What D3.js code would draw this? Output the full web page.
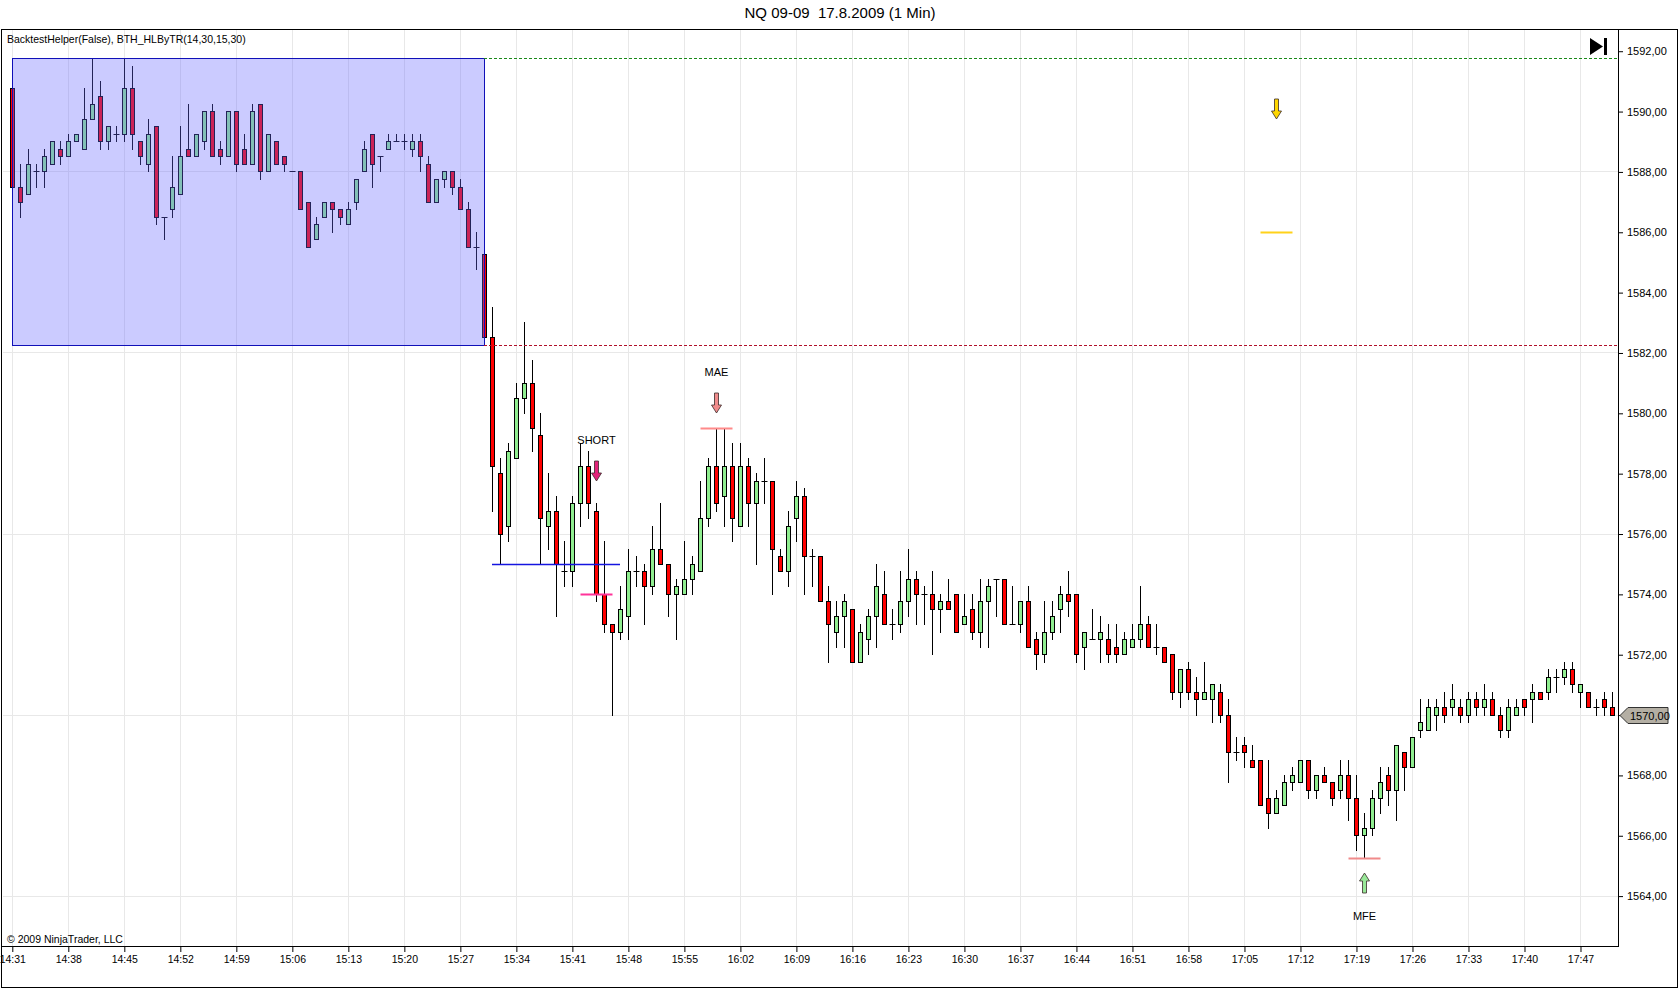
<!DOCTYPE html>
<html>
<head>
<meta charset="utf-8">
<script src="https://cdn.jsdelivr.net/npm/d3@7"></script>
<style>
html,body{margin:0;padding:0;background:#fff;}
svg{display:block;font-family:"Liberation Sans",Arial,sans-serif;}
</style>
</head>
<body>
<svg id="chart" width="1680" height="990"></svg>
<script>
// ---------------- DATA ----------------
const startLabel = "14:31";
const open = [
1590.75,1587.5,1587.25,1588,1588,1588.25,1588.75,1588.5,1589,1588.75,
1589.75,1590.5,1589,1589.25,1589.25,1590.75,1589,1588.25,1589.5,1586.5,
1586.75,1587.25,1588.75,1588.5,1589,1590,1588.75,1588.5,1590,1588.75,
1588.25,1590.25,1588,1589,1588.5,1588,1588,1587,1585.75,1586.5,
1587,1586.75,1586.25,1587,1588,1589.25,1588.5,1588.75,1589,1589,
1588.75,1589,1588.25,1587,1587.75,1588,1587.5,1586.75,1585.5,1585.25,
1582.5,1578,1576.25,1578.5,1580.5,1581,1579.25,1576.25,1576.75,1574.75,
1574.75,1577,1578.25,1576.75,1574,1573,1572.75,1573.25,1574.75,1574.75,
1574.25,1575.5,1575,1574,1574,1574.5,1574.75,1576.5,1578.25,1577.25,
1578.25,1576.25,1578.25,1577,1577.75,1577.75,1575.25,1574.75,1576.5,1577.25,
1575.25,1575.25,1573.75,1572.75,1573.25,1573.5,1571.75,1572.5,1573.25,1574,
1573,1573,1573.75,1574.5,1574,1574,1573.5,1573.75,1574,1573,
1573.5,1572.75,1573.75,1574.5,1574.5,1573,1573,1573.75,1572.5,1572,
1572.75,1573.5,1574,1574,1572.25,1572.5,1572.5,1572.5,1572.25,1572,
1572.25,1572.5,1573,1572.25,1572.25,1572,1570.75,1571.5,1570.75,1570.5,
1570.5,1570.75,1570,1568.75,1569,1568.5,1568.5,1567.25,1566.75,1567,
1567.75,1567.75,1568.5,1567.5,1568,1567.75,1567.5,1568,1567.25,1566,
1566.25,1567.25,1568,1567.5,1568.75,1568.25,1569.5,1569.5,1570,1570.25,
1570.25,1570.25,1570,1570.5,1570.25,1570.5,1570,1569.5,1570,1570.5,
1570.5,1570.75,1570.75,1571.25,1571.25,1571.5,1570.75,1570.75,1570.25,1570.5,
1570.25];
const high = [
1590.75,1588.25,1588.75,1588.25,1588.75,1589,1589,1589.25,1589.25,1590.75,
1591.75,1591,1589.5,1589.5,1591.75,1591.5,1589,1589.75,1589.5,1586.5,
1588.5,1589.5,1590.25,1589.25,1590,1590.25,1589,1590,1590,1589.25,
1590.25,1590.25,1589.25,1589,1588.5,1588,1588,1587,1586.5,1587,
1587,1586.75,1587,1587.75,1589,1589.25,1588.5,1589.25,1589.25,1589.25,
1589.25,1589.25,1588.5,1587.75,1588,1588,1587.75,1587,1586,1585.25,
1583.5,1578.5,1579,1581,1583,1581.75,1580,1578,1577.25,1575.75,
1577.25,1579,1578.75,1577,1575.75,1573,1574.25,1575.5,1575.25,1575,
1576.25,1577,1575,1574.5,1575.75,1575.25,1577.75,1578.5,1579.5,1579.5,
1579,1579,1578.5,1578,1578.5,1577.75,1575.5,1576.75,1577.75,1577.5,
1575.5,1575.25,1574.25,1573.75,1574,1573.5,1573,1573.5,1575,1574.75,
1573.5,1574.75,1575.5,1574.75,1574.25,1574.75,1574,1574.5,1574,1574,
1574,1574.5,1574.5,1574.5,1574.5,1574.25,1573.75,1574.25,1572.75,1573.75,
1573.75,1574.25,1574.75,1574,1572.75,1573.5,1573.25,1573,1573,1572.75,
1573,1574.25,1573.25,1573,1572.25,1572,1571.5,1571.75,1571.25,1571.75,
1571,1571,1570.5,1569.25,1569.25,1569,1568.5,1568.5,1567.5,1568,
1568.25,1568.5,1568.5,1568,1568.25,1567.75,1568.5,1568.5,1568,1566.75,
1567.5,1568.25,1568.25,1569,1568.75,1569.25,1570.5,1570.5,1570.5,1570.75,
1571,1570.5,1570.75,1570.75,1571,1570.75,1570.25,1570.5,1570.5,1570.5,
1571,1570.75,1571.5,1571.5,1571.75,1571.75,1571,1570.75,1570.5,1570.75,
1570.75];
const low = [
1587.5,1586.5,1587.25,1587.5,1587.5,1588.25,1588.25,1588.5,1589,1588.75,
1589.75,1588.75,1588.75,1589,1589,1588.75,1588.25,1588,1586.25,1585.75,
1586.5,1587.25,1588.5,1588.5,1588.75,1588.5,1588.25,1588.5,1588,1588.25,
1588.25,1587.75,1588,1588.25,1588,1588,1586.75,1585.5,1585.75,1586.5,
1586,1586.25,1586.25,1586.75,1588,1587.5,1588,1588.75,1589,1588.75,
1588.5,1588,1587,1587,1587.5,1587.25,1586.75,1585.5,1584.75,1582.25,
1576.75,1575,1575.75,1578.5,1580,1578.75,1575,1575.5,1573.25,1574.25,
1574.25,1576.25,1576.5,1573.75,1572.75,1570,1572.5,1572.5,1574.25,1573,
1574,1575,1573.25,1572.5,1574,1574,1574.75,1576.25,1576.75,1576.25,
1575.75,1576.25,1576.25,1575,1577,1574,1574.75,1574.25,1575.75,1574,
1574.25,1573.75,1571.75,1572.25,1572.25,1571.75,1571.75,1572,1572.25,1573,
1572.5,1572.75,1573.25,1573,1573,1572,1572.75,1573.5,1572.75,1573,
1572.5,1572.25,1572.25,1573.25,1573,1573,1572.75,1572.25,1571.5,1571.75,
1572.5,1572.75,1573.25,1571.75,1571.5,1572.5,1571.75,1571.75,1571.75,1572,
1572.25,1572.25,1572.25,1572,1571.75,1570.5,1570.25,1570.5,1570,1570.5,
1569.75,1569.75,1567.75,1568.5,1568.25,1568.25,1567,1566.25,1566.75,1567,
1567.5,1567.75,1567.25,1567.25,1567.75,1567,1567.25,1566.5,1565.5,1565.25,
1566,1566.75,1567,1566.5,1567.5,1568.25,1569.25,1569.5,1569.5,1569.75,
1570,1569.75,1569.75,1570,1570,1570,1569.25,1569.25,1570,1570,
1569.75,1570.5,1570.5,1570.75,1571,1570.75,1570.25,1570.25,1570,1570,
1570];
const close = [
1587.5,1587,1588.25,1588,1588.5,1589,1588.5,1589,1589.25,1589.75,
1590.25,1589,1589.5,1589.25,1590.75,1589.25,1588.5,1589.25,1586.5,1586.5,
1587.5,1588.5,1588.5,1589.25,1590,1588.5,1588.5,1590,1588.25,1588.25,
1590,1588,1589.25,1588.25,1588.25,1588,1586.75,1585.5,1586.25,1587,
1586.75,1586.5,1586.75,1587.75,1588.75,1588.25,1588.5,1589,1589,1589,
1589,1588.5,1587,1587.75,1588,1587.5,1586.75,1585.5,1585.5,1582.5,
1578.25,1576,1578.75,1580.5,1581,1579.5,1576.5,1576.75,1575,1574.75,
1577,1578.25,1577,1574,1573,1572.75,1573.5,1574.75,1574.75,1574.25,
1575.5,1575,1574,1574.25,1574.5,1575,1576.5,1578.25,1577,1578.25,
1576.5,1578.25,1577,1577.75,1577.75,1575.5,1574.75,1576.25,1577.25,1575.25,
1575.25,1573.75,1573,1573.25,1573.75,1571.75,1572.75,1573.25,1574.25,1573,
1573,1573.75,1574.5,1574,1574,1573.5,1573.75,1573.5,1572.75,1573.25,
1572.75,1573.75,1574.25,1574.5,1573,1573,1573.75,1572.25,1572,1572.75,
1573.25,1574,1573.75,1572,1572.75,1572.5,1572.75,1572,1572,1572.5,
1572.5,1573,1572.25,1572.25,1571.75,1570.75,1571.5,1570.75,1570.5,1570.75,
1571,1570,1568.75,1568.75,1568.75,1568.25,1567,1566.75,1567.25,1567.75,
1568,1568.5,1567.5,1568,1567.75,1567.25,1568,1567.25,1566,1566.25,
1567.25,1567.75,1567.5,1569,1568.25,1569.25,1569.75,1570.25,1570.25,1570,
1570.5,1570,1570.5,1570.25,1570.5,1570,1569.5,1570.25,1570.25,1570.25,
1570.75,1570.5,1571.25,1571.25,1571.5,1571,1571,1570.25,1570.25,1570.25,
1570];
const timeTickLabels = ["14:31","14:38","14:45","14:52","14:59","15:06","15:13","15:20","15:27","15:34","15:41","15:48","15:55","16:02","16:09","16:16","16:23","16:30","16:37","16:44","16:51","16:58","17:05","17:12","17:19","17:26","17:33","17:40","17:47"];
const priceTicks = [1564,1566,1568,1570,1572,1574,1576,1578,1580,1582,1584,1586,1588,1590,1592];
const gridPrices = [1564,1570,1576,1582,1588];
// range box (BTH_HLByTR 14:30-15:30)
const rangeStart = "14:31", rangeEnd = "15:30";
const rangeHigh = 1591.75, rangeLow = 1582.25;
// trade marks
const breakLine = {from:"15:31", to:"15:47", price:1575};
const hLines = [
  {time:"15:44", price:1574,    color:"#ff3399"},
  {time:"15:59", price:1579.5,  color:"#ff8a8a"},
  {time:"17:20", price:1565.25, color:"#f08a8a"},
  {time:"17:09", price:1586,    color:"#ffd21a"}
];
const arrows = [
  {time:"15:44", tip:1577.75, dir:"down", fill:"#e2247a", label:"SHORT"},
  {time:"15:59", tip:1580,    dir:"down", fill:"#f08c8c", label:"MAE"},
  {time:"17:20", tip:1564.75, dir:"up",   fill:"#98e898", label:"MFE"},
  {time:"17:09", tip:1589.75, dir:"down", fill:"#ffd700", label:""}
];
const lastPrice = 1570;
const title = "NQ 09-09  17.8.2009 (1 Min)";
const indicatorLabel = "BacktestHelper(False), BTH_HLByTR(14,30,15,30)";
const copyright = "\u00A9 2009 NinjaTrader, LLC";

// ---------------- SETUP ----------------
const svg = d3.select("#chart");
const parse = d3.timeParse("%H:%M");
const t0 = parse(startLabel);
const times = open.map((_, i) => d3.timeMinute.offset(t0, i));
const candles = times.map((t, i) => ({t, o:open[i], h:high[i], l:low[i], c:close[i]}));

const L = 3, R = 1618, T = 29, B = 946;
const x = d3.scaleTime()
  .domain([new Date(t0.getTime() - 66000), new Date(t0.getTime() + 200.75 * 60000)])
  .range([L, R]);
const y = d3.scaleLinear().domain([1562.33, 1592.72]).range([B, T]);

const px = t => Math.round(x(typeof t === "string" ? parse(t) : t));

// background
svg.append("rect").attr("width",1680).attr("height",990).attr("fill","#fff");

// title
svg.append("text").attr("x",840).attr("y",18).attr("text-anchor","middle")
  .attr("font-size",15).attr("fill","#000").style("white-space","pre").text(title);

// clip
svg.append("clipPath").attr("id","plotclip").append("rect")
  .attr("x",L).attr("y",T).attr("width",R-L).attr("height",B-T);
const plot = svg.append("g").attr("clip-path","url(#plotclip)");

// grid
plot.append("g").selectAll("line").data(timeTickLabels).join("line")
  .attr("x1",d=>px(d)+0.5).attr("x2",d=>px(d)+0.5).attr("y1",T).attr("y2",B)
  .attr("stroke","#e8e8e8");
plot.append("g").selectAll("line").data(gridPrices).join("line")
  .attr("x1",L).attr("x2",R).attr("y1",d=>Math.round(y(d))+0.5).attr("y2",d=>Math.round(y(d))+0.5)
  .attr("stroke","#e8e8e8");

// candles
const cg = plot.append("g");
candles.forEach(d => {
  const cx = px(d.t);
  cg.append("line").attr("x1",cx+0.5).attr("x2",cx+0.5)
    .attr("y1",Math.round(y(d.h))).attr("y2",Math.round(y(d.l))+1)
    .attr("stroke","#000").attr("stroke-width",1);
  if (d.o === d.c) {
    const yy = Math.round(y(d.o)) + 0.5;
    cg.append("line").attr("x1",cx-2.5).attr("x2",cx+3.5).attr("y1",yy).attr("y2",yy)
      .attr("stroke","#000");
  } else {
    const top = Math.round(y(Math.max(d.o,d.c))), bot = Math.round(y(Math.min(d.o,d.c)));
    cg.append("rect").attr("x",cx-1.5).attr("y",top+0.5).attr("width",4).attr("height",Math.max(1,bot-top))
      .attr("fill", d.c > d.o ? "#90ee90" : "#ff0000").attr("stroke","#000").attr("stroke-width",1);
  }
});

// range box overlay
const bx0 = px(rangeStart), bx1 = px(rangeEnd);
plot.append("rect").attr("x",bx0+0.5).attr("y",Math.round(y(rangeHigh))+0.5)
  .attr("width",bx1-bx0).attr("height",Math.round(y(rangeLow))-Math.round(y(rangeHigh)))
  .attr("fill","#6666ff").attr("fill-opacity",0.34).attr("stroke","#1010b8").attr("stroke-width",1);
// dashed continuation lines
plot.append("line").attr("x1",bx1).attr("x2",R).attr("y1",Math.round(y(rangeHigh))+0.5).attr("y2",Math.round(y(rangeHigh))+0.5)
  .attr("stroke","#1a8a1a").attr("stroke-dasharray","3,2");
plot.append("line").attr("x1",bx1).attr("x2",R).attr("y1",Math.round(y(rangeLow))+0.5).attr("y2",Math.round(y(rangeLow))+0.5)
  .attr("stroke","#b0102a").attr("stroke-dasharray","3,2");

// breakout line
plot.append("line").attr("x1",px(breakLine.from)).attr("x2",px(breakLine.to))
  .attr("y1",Math.round(y(breakLine.price))+0.5).attr("y2",Math.round(y(breakLine.price))+0.5)
  .attr("stroke","#1515e0").attr("stroke-width",1.3);

// trade horizontal marks
plot.selectAll(".hmark").data(hLines).join("line")
  .attr("x1",d=>px(d.time)-15.5).attr("x2",d=>px(d.time)+16.5)
  .attr("y1",d=>Math.round(y(d.price))+0.5).attr("y2",d=>Math.round(y(d.price))+0.5)
  .attr("stroke",d=>d.color).attr("stroke-width",2);

// arrows
arrows.forEach(a => {
  const cx = px(a.time) + 0.5, ty = Math.round(y(a.tip));
  const s = a.dir === "down" ? -1 : 1;
  const p = d3.path();
  p.moveTo(cx-2, ty+s*20); p.lineTo(cx+2, ty+s*20); p.lineTo(cx+2, ty+s*8);
  p.lineTo(cx+5, ty+s*8); p.lineTo(cx, ty); p.lineTo(cx-5, ty+s*8); p.lineTo(cx-2, ty+s*8); p.closePath();
  plot.append("path").attr("d",p.toString()).attr("fill",a.fill).attr("stroke","#3a2a2a").attr("stroke-width",0.8);
  if (a.label) {
    plot.append("text").attr("x",cx).attr("y", ty + s*40 + (s < 0 ? 3 : 7)).attr("text-anchor","middle")
      .attr("font-size",11).attr("fill","#000").text(a.label);
  }
});

// indicator label & copyright
svg.append("text").attr("x",7).attr("y",43).attr("font-size",10.5).attr("fill","#000").text(indicatorLabel);
svg.append("text").attr("x",7).attr("y",943).attr("font-size",10.5).attr("fill","#000").text(copyright);

// go-to-end icon
svg.append("path").attr("d","M1590,38 L1603,46.5 L1590,55 Z").attr("fill","#000");
svg.append("rect").attr("x",1604).attr("y",38).attr("width",3).attr("height",17).attr("fill","#000");

// axes
const xAxis = d3.axisBottom(x).tickValues(timeTickLabels.map(parse)).tickFormat(d3.timeFormat("%H:%M")).tickSize(6).tickPadding(4);
const gx = svg.append("g").attr("transform",`translate(0.5,${B})`).call(xAxis);
gx.select(".domain").remove();
gx.selectAll("text").attr("font-size",10.5).attr("fill","#000").attr("font-family","Liberation Sans, Arial");

const yAxis = d3.axisRight(y).tickValues(priceTicks).tickFormat(d => d.toFixed(2).replace(".",",")).tickSize(5).tickPadding(4);
const gy = svg.append("g").attr("transform",`translate(${R},0.5)`).call(yAxis);
gy.select(".domain").remove();
gy.selectAll("text").attr("font-size",11).attr("fill","#000").attr("font-family","Liberation Sans, Arial");

// last price marker
const ly = Math.round(y(lastPrice)) + 0.5;
svg.append("path").attr("d",`M${R+2},${ly} L${R+10},${ly-8} L${R+50},${ly-8} L${R+50},${ly+8} L${R+10},${ly+8} Z`)
  .attr("fill","#b4afa4").attr("stroke","#333").attr("stroke-width",1);
svg.append("text").attr("x",R+12).attr("y",ly+4).attr("font-size",11).attr("fill","#000").text(lastPrice.toFixed(2).replace(".",","));

// frame
svg.append("rect").attr("x",1.5).attr("y",T+0.5).attr("width",1676).attr("height",958).attr("fill","none").attr("stroke","#000");
svg.append("line").attr("x1",R+0.5).attr("x2",R+0.5).attr("y1",T).attr("y2",B+0.5).attr("stroke","#000");
svg.append("line").attr("x1",1).attr("x2",R+1).attr("y1",B+0.5).attr("y2",B+0.5).attr("stroke","#000");
</script>
</body>
</html>
